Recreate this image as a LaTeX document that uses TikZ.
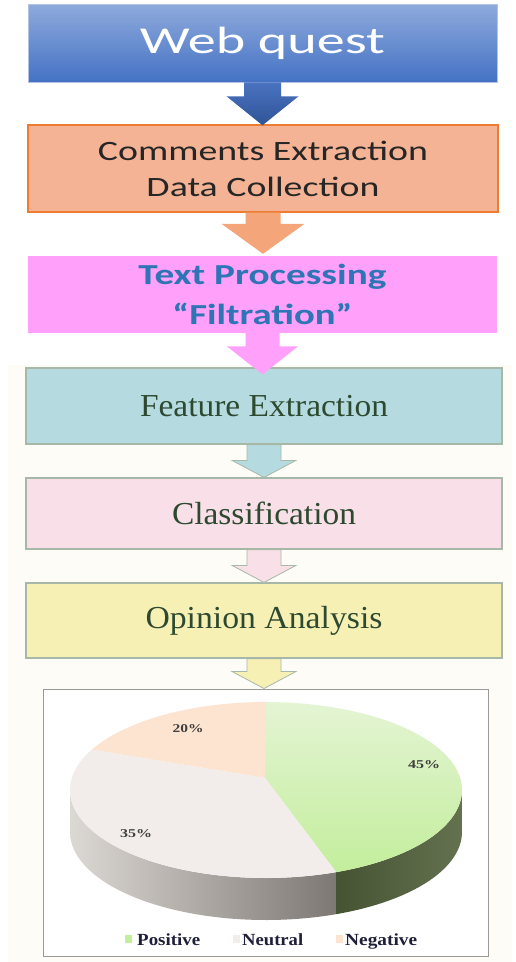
\documentclass[tikz,border=0pt]{standalone}
\usepackage{fontspec}
\setmainfont{Liberation Serif}
\newfontfamily\calfont{Carlito}
\usetikzlibrary{calc}
\definecolor{cream}{HTML}{FDFCF6}
\definecolor{wqtop}{HTML}{8FAADC}
\definecolor{wqbot}{HTML}{4472C4}
\definecolor{arrAtop}{HTML}{4A72C0}
\definecolor{arrAbot}{HTML}{2F5496}
\definecolor{orfill}{HTML}{F4B394}
\definecolor{orline}{HTML}{ED7D31}
\definecolor{orarr}{HTML}{F4A57A}
\definecolor{pinkfill}{HTML}{FFA0FA}
\definecolor{tpblue}{HTML}{2E75B6}
\definecolor{tealfill}{HTML}{B5DBE0}
\definecolor{rosefill}{HTML}{F9DFE8}
\definecolor{yelfill}{HTML}{F7F0B5}
\definecolor{boxline}{HTML}{A8B8A8}
\definecolor{sertext}{HTML}{2D4A30}
\definecolor{posA}{HTML}{E4F4D4}
\definecolor{posB}{HTML}{C3EE9C}
\definecolor{neutral}{HTML}{F2EDEA}
\definecolor{negative}{HTML}{FCE4D0}
\definecolor{sideL}{HTML}{DCD8D3}
\definecolor{sideR}{HTML}{7D7873}
\definecolor{sideG}{HTML}{53623C}
\definecolor{lbl}{HTML}{404040}
\definecolor{leg}{HTML}{1F1F3A}
\newcommand\fw[2]{\resizebox{#1}{\height}{#2}}
% block arrow from node #2 to node #3: shaft half #4, head half #5, head height #6, tip overlap #7
\newcommand\barrow[7]{%
  \path[#1] let \p1=(#2.south), \p2=(#3.north) in
    (\x1-#4pt,\y1) -- (\x1+#4pt,\y1) -- (\x1+#4pt,\y2+#6pt-#7pt) -- (\x1+#5pt,\y2+#6pt-#7pt)
    -- (\x1,\y2-#7pt) -- (\x1-#5pt,\y2+#6pt-#7pt) -- (\x1-#4pt,\y2+#6pt-#7pt) -- cycle;}
\tikzset{
  flowbox/.style={rectangle, inner sep=0pt, align=center},
  serbox/.style={flowbox, draw=boxline, line width=1.2pt, minimum width=476pt,
    text=sertext, font=\fontsize{32}{32}\selectfont},
  lowarr/.style={draw=boxline, line width=0.8pt},
  pielbl/.style={text=lbl, font=\bfseries\fontsize{12}{12}\selectfont, inner sep=0pt},
  legtxt/.style={text=leg, font=\bfseries\fontsize{17}{17}\selectfont, inner sep=0pt, anchor=base west},
}
\begin{document}
\begin{tikzpicture}[x=1pt,y=-1pt]
\useasboundingbox (0,0) rectangle (515,962);
\fill[white] (0,0) rectangle (515,962);
\fill[cream] (8,365) rectangle (512,962);

\node[flowbox, minimum width=469pt, minimum height=78pt, top color=wqtop, bottom color=wqbot,
  draw=wqtop!70!white, line width=0.6pt, text=white,
  font=\calfont\fontsize{38}{38}\selectfont] (b1) at (262.5,43) {\fw{245pt}{Web quest}};
\node[flowbox, minimum width=470pt, minimum height=87pt, fill=orfill, draw=orline, line width=1.4pt,
  text=black!85, font=\calfont\fontsize{28}{36}\selectfont] (b2) at (263,168.5)
  {\fw{330pt}{Comments Extraction}\\\fw{233pt}{Data Collection}};
\node[flowbox, minimum width=469pt, minimum height=77pt, fill=pinkfill,
  text=tpblue, font=\calfont\bfseries\fontsize{29}{40}\selectfont] (b3) at (262.5,294.5)
  {\fw{248pt}{Text Processing}\\\fw{180pt}{“Filtration”}};
\node[serbox, minimum height=76pt, fill=tealfill] (b4) at (264,406) {\fw{248pt}{Feature Extraction}};
\node[serbox, minimum height=71pt, fill=rosefill] (b5) at (264,513.5) {\fw{184pt}{Classification}};
\node[serbox, minimum height=75pt, fill=yelfill] (b6) at (264,620.5) {\fw{237pt}{Opinion Analysis}};
\node[rectangle, minimum width=445pt, minimum height=267pt, fill=white, draw=gray!80, line width=1pt]
  (b7) at (265.5,822.5) {};

\barrow{top color=arrAtop, bottom color=arrAbot}{b1}{b2}{18.5}{36}{29}{1}
\barrow{fill=orarr}{b2}{b3}{17.5}{41.5}{30}{-2}
\barrow{fill=pinkfill}{b3}{b4}{17}{35.5}{28}{7}
\barrow{fill=tealfill, lowarr}{b4}{b5}{17}{32}{17}{0}
\barrow{fill=rosefill, lowarr}{b5}{b6}{17}{32}{17}{0}
\barrow{fill=yelfill, lowarr}{b6}{b7}{17}{32}{17}{0}

% pie chart
\def\cx{266}\def\cy{790}\def\rx{196}\def\ry{88}\def\dd{42}
\shade[left color=sideL, right color=sideR]
  plot[domain=180:291, samples=60] ({\cx+\rx*cos(\x)},{\cy-\ry*sin(\x)})
  -- plot[domain=291:180, samples=60] ({\cx+\rx*cos(\x)},{\cy+\dd-\ry*sin(\x)}) -- cycle;
\shade[left color=sideG!85!black, right color=sideG!90!white]
  plot[domain=291:360, samples=40] ({\cx+\rx*cos(\x)},{\cy-\ry*sin(\x)})
  -- plot[domain=360:291, samples=40] ({\cx+\rx*cos(\x)},{\cy+\dd-\ry*sin(\x)}) -- cycle;
\coordinate (apex) at (265,778);
\shade[top color=posA, bottom color=posB]
  (apex) -- plot[domain=-69:90, samples=60] ({\cx+\rx*cos(\x)},{\cy-\ry*sin(\x)}) -- cycle;
\fill[negative]
  (apex) -- plot[domain=90:152.7, samples=40] ({\cx+\rx*cos(\x)},{\cy-\ry*sin(\x)}) -- cycle;
\fill[neutral]
  (apex) -- plot[domain=152.7:291, samples=60] ({\cx+\rx*cos(\x)},{\cy-\ry*sin(\x)}) -- cycle;

\node[pielbl] (l20) at (188,729) {\fw{31pt}{20\%}};
\node[pielbl] (l45) at (424,765) {\fw{32pt}{45\%}};
\node[pielbl] (l35) at (136,834) {\fw{32pt}{35\%}};

% legend
\fill[posB] (125,935) rectangle (132,943);
\node[legtxt] (lgp) at (137,945) {\fw{63pt}{Positive}};
\fill[neutral] (233,935) rectangle (240,943);
\node[legtxt] (lgn) at (242,945) {\fw{61pt}{Neutral}};
\fill[negative] (336,935) rectangle (343,943);
\node[legtxt] (lgg) at (345,945) {\fw{72pt}{Negative}};
\end{tikzpicture}
\end{document}
